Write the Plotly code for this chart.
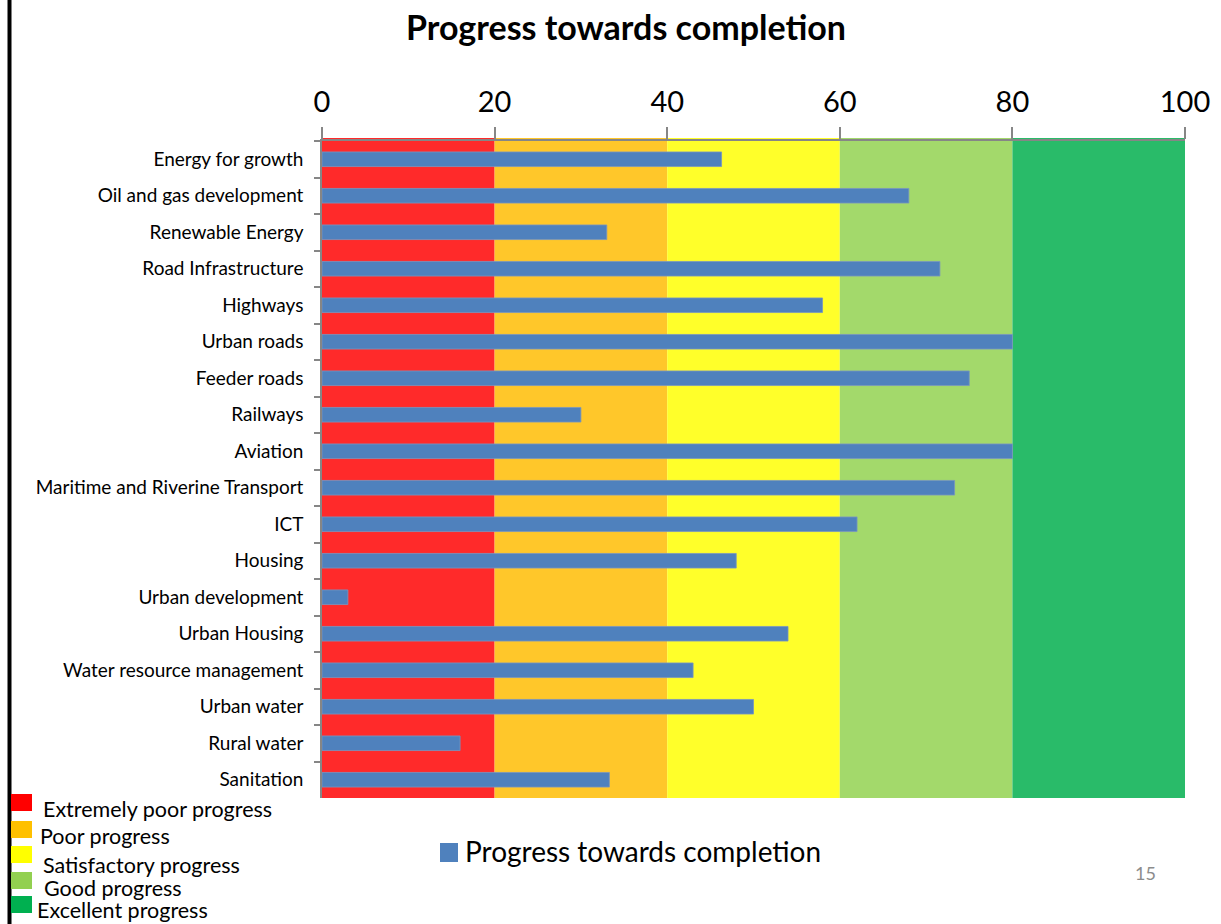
import plotly.graph_objects as go

# Programmes and their progress towards completion (%)
categories = [
    "Energy for growth", "Oil and gas development", "Renewable Energy",
    "Road Infrastructure", "Highways", "Urban roads", "Feeder roads",
    "Railways", "Aviation", "Maritime and Riverine Transport", "ICT",
    "Housing", "Urban development", "Urban Housing",
    "Water resource management", "Urban water", "Rural water", "Sanitation",
]
progress = [46.3, 68, 33, 71.6, 58, 80, 75, 30, 80, 73.3, 62, 48, 3, 54, 43, 50, 16, 33.3]

# Rating bands on the 0-100 scale
band_edges = [0, 20, 40, 60, 80, 100]
band_fill = ["#FF2A2A", "#FFC72A", "#FFFF2A", "#A3D96B", "#29BB69"]
band_labels = ["Extremely poor progress", "Poor progress", "Satisfactory progress",
               "Good progress", "Excellent progress"]
band_key = ["#FF0000", "#FFC000", "#FFFF00", "#92D050", "#00B050"]

x_ticks = [0, 20, 40, 60, 80, 100]
series_name = "Progress towards completion"
bar_color = "#4F81BD"

W, H = 1221, 924
ML, MR, MT, MB = 322, 36, 141, 126
PW, PH = W - ML - MR, H - MT - MB

FONT = "Lato, Open Sans, sans-serif"


def px_x(px):
    return (px - ML) / PW


def px_y(py):
    return (H - MB - py) / PH


fig = go.Figure()
fig.add_trace(go.Bar(
    y=categories,
    x=progress,
    orientation="h",
    name=series_name,
    showlegend=False,
    marker=dict(color=bar_color, line=dict(color="#7895C0", width=0.8)),
))

shapes = []
for i, col in enumerate(band_fill):
    shapes.append(dict(
        type="rect", xref="x", yref="paper",
        x0=band_edges[i], x1=band_edges[i + 1], y0=0, y1=1 + 3 / PH,
        fillcolor=col, line=dict(width=0), layer="below",
    ))

# Slide border on the left
shapes.append(dict(type="line", xref="paper", yref="paper",
                   x0=px_x(9.5), x1=px_x(9.5), y0=px_y(0), y1=px_y(H),
                   line=dict(color="black", width=4)))

annotations = []

# Rating key, bottom left
key_boxes = [(794, 811), (821, 838), (846, 863), (872, 889), (896, 913)]
key_text_pos = [(42, 809), (39, 836), (42, 865), (43, 888), (36, 910)]
for (y0, y1), (tx, ty), col, lab in zip(key_boxes, key_text_pos, band_key, band_labels):
    shapes.append(dict(type="rect", xref="paper", yref="paper",
                       x0=px_x(11), x1=px_x(32), y0=px_y(y1), y1=px_y(y0),
                       fillcolor=col, line=dict(width=0)))
    annotations.append(dict(xref="paper", yref="paper", x=px_x(tx), y=px_y(ty),
                            text=lab, showarrow=False, xanchor="left", yanchor="middle",
                            borderpad=0,
                            font=dict(family=FONT, size=21.5, color="black")))

# Series key below the plot
shapes.append(dict(type="rect", xref="paper", yref="paper",
                   x0=px_x(440), x1=px_x(458), y0=px_y(862), y1=px_y(843),
                   fillcolor=bar_color, line=dict(width=0)))
annotations.append(dict(xref="paper", yref="paper", x=px_x(463), y=px_y(851),
                        text=series_name, showarrow=False, xanchor="left", yanchor="middle",
                        font=dict(family=FONT, size=28, color="black")))

# Slide number
annotations.append(dict(xref="paper", yref="paper", x=px_x(1145), y=px_y(873),
                        text="15", showarrow=False, xanchor="center", yanchor="middle",
                        font=dict(family=FONT, size=18, color="#8C8C8C")))

fig.update_layout(
    width=W, height=H,
    margin=dict(l=ML, r=MR, t=MT, b=MB, pad=0),
    paper_bgcolor="white", plot_bgcolor="white",
    title=dict(text="<b>Progress towards completion</b>", x=626 / W,
               xanchor="center", y=1 - 28 / H, yanchor="middle",
               font=dict(family=FONT, size=34, color="black")),
    bargap=0.6,
    showlegend=False,
    shapes=shapes,
    annotations=annotations,
)

fig.update_xaxes(
    side="top", range=[0, 100], tickvals=x_ticks, ticktext=[str(v) for v in x_ticks],
    showgrid=False, zeroline=False, showline=True, linecolor="#868686", linewidth=1.5,
    ticks="outside", ticklen=12, tickcolor="#868686", tickwidth=1.5,
    tickfont=dict(family=FONT, size=29, color="black"), ticklabelstandoff=4,
)
fig.update_yaxes(
    categoryorder="array", categoryarray=categories, autorange="reversed",
    showgrid=False, zeroline=False, showline=True, linecolor="#868686", linewidth=1.5,
    ticks="outside", ticklen=6, tickcolor="#868686", tickwidth=1.5, tickson="boundaries",
    tickfont=dict(family=FONT, size=19, color="black"), ticklabelstandoff=13,
)

fig.write_html("out.html")
